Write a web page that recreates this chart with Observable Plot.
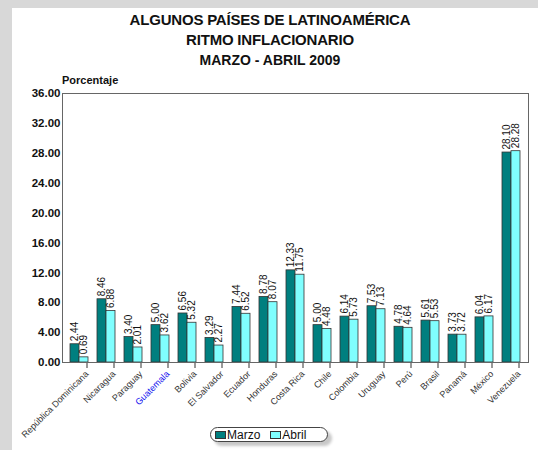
<!DOCTYPE html>
<html>
<head>
<meta charset="utf-8">
<script src="https://cdn.jsdelivr.net/npm/d3@7"></script>
<script src="https://cdn.jsdelivr.net/npm/@observablehq/plot@0.6"></script>
<style>
  html, body { margin: 0; padding: 0; }
  body { width: 538px; height: 450px; overflow: hidden; font-family: "Liberation Sans", Arial, sans-serif; }
  #wrap { position: relative; width: 538px; height: 450px; background: #d8d8d8; }
  #panel { position: absolute; left: 12px; top: 8px; width: 526px; height: 442px; background: #fff; }
  .t { position: absolute; left: 0; width: 540px; text-align: center; font-weight: bold; color: #111; white-space: nowrap; }
  #ylab { position: absolute; left: 62px; top: 74px; font-size: 11px; font-weight: bold; color: #111; }
  #chart { position: absolute; left: 0; top: 0; }
  #frame { position: absolute; left: 62px; top: 93px; width: 465px; height: 268px; border: 1px solid #666; pointer-events: none; }
  #legend { position: absolute; left: 210px; top: 427px; width: 118px; height: 15px; border: 1px solid #444; border-radius: 8px;
            background: #fff; box-shadow: 4px 4px 3px #c8c8c8; font-size: 12px; color: #111; display: flex; align-items: center; padding-left: 4px; box-sizing: border-box; }
  .sw { display: inline-block; width: 11px; height: 8px; border: 1px solid #333; margin-right: 1px; box-sizing: border-box; }
</style>
</head>
<body>
<div id="wrap">
  <div id="panel"></div>
  <div class="t" style="top:11px;font-size:15px;letter-spacing:-0.2px;">ALGUNOS PAÍSES DE LATINOAMÉRICA</div>
  <div class="t" style="top:31px;font-size:15px;letter-spacing:-0.2px;">RITMO INFLACIONARIO</div>
  <div class="t" style="top:52px;font-size:14px;">MARZO - ABRIL 2009</div>
  <div id="ylab">Porcentaje</div>
  <div id="chart"></div>
  <div id="frame"></div>
  <div id="legend"><span class="sw" style="background:#007f7f"></span>Marzo&nbsp;&nbsp;&nbsp;<span class="sw" style="background:#80ffff"></span>Abril</div>
</div>
<script>
const paises = ["República Dominicana", "Nicaragua", "Paraguay", "Guatemala", "Bolivia", "El Salvador", "Ecuador", "Honduras", "Costa Rica", "Chile", "Colombia", "Uruguay", "Perú", "Brasil", "Panamá", "México", "Venezuela"];
const marzo = [2.44, 8.46, 3.40, 5.00, 6.56, 3.29, 7.44, 8.78, 12.33, 5.00, 6.14, 7.53, 4.78, 5.61, 3.73, 6.04, 28.10];
const abril = [0.69, 6.88, 2.01, 3.62, 5.32, 2.27, 6.52, 8.07, 11.75, 4.48, 5.73, 7.13, 4.64, 5.53, 3.72, 6.17, 28.28];
const series = ["Marzo", "Abril"];
const colores = ["#007f7f", "#80ffff"];
const yTicks = [0, 4, 8, 12, 16, 20, 24, 28, 32, 36];

const rows = [];
paises.forEach((p, i) => {
  rows.push({pais: p, serie: "Marzo", valor: marzo[i]});
  rows.push({pais: p, serie: "Abril", valor: abril[i]});
});
const fmt = d3.format(".2f");

const chart = Plot.plot({
  width: 538,
  height: 450,
  marginLeft: 62,
  marginRight: 10,
  marginTop: 93,
  marginBottom: 88,
  style: {background: "transparent", fontFamily: "Liberation Sans, Arial, sans-serif"},
  fx: {domain: paises, paddingInner: 0.29, paddingOuter: 0.145, label: null},
  x: {domain: series, padding: 0, axis: null},
  y: {domain: [0, 36], axis: null},
  color: {domain: series, range: colores},
  marks: [
    Plot.axisY({ticks: yTicks, tickFormat: fmt, tickSize: 0, tickPadding: 9, fontSize: 11.5, fontWeight: "bold", fill: "#111", label: null}),
    Plot.axisFx({anchor: "bottom", tickRotate: -45, tickSize: 6, tickPadding: 4, fontSize: 9, dx: 8, stroke: "#333",
      fill: d => d === "Guatemala" ? "#1010ee" : "#333", label: null}),
    Plot.barY(rows, {fx: "pais", x: "serie", y: "valor", fill: "serie", stroke: "#333", strokeWidth: 0.8}),
    Plot.text(rows, {fx: "pais", x: "serie", y: "valor", text: d => fmt(d.valor), rotate: -90, textAnchor: "start", dy: -3, fontSize: 10, fill: "#111"})
  ]
});
document.getElementById("chart").appendChild(chart);
</script>
</body>
</html>
